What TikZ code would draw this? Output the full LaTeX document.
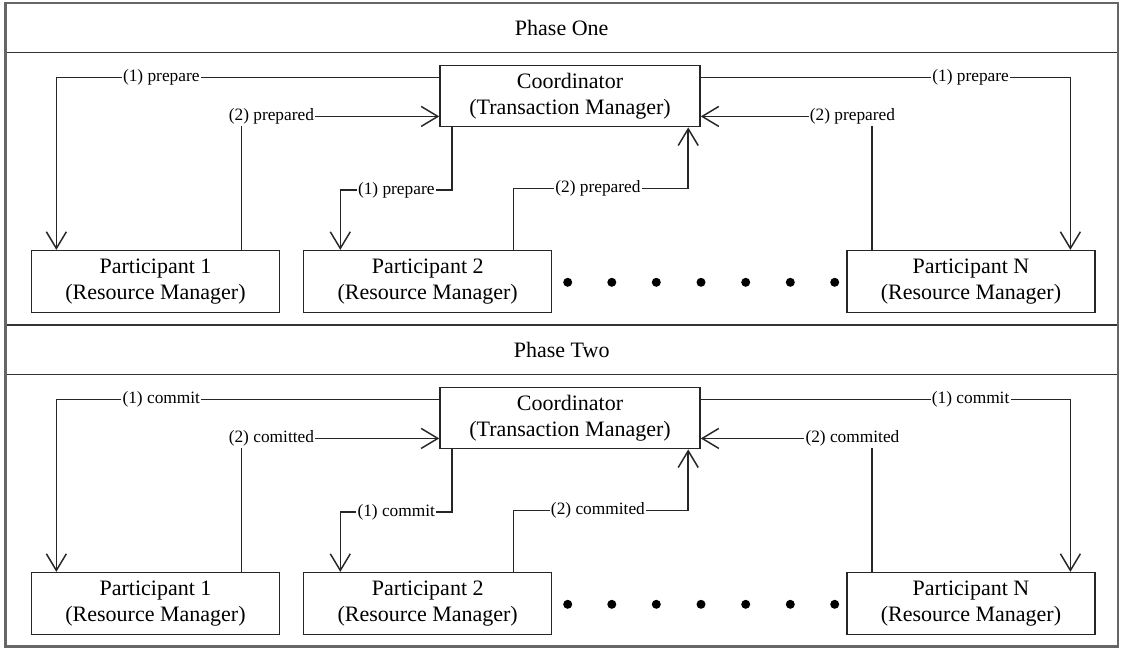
\documentclass[tikz,border=0pt]{standalone}
\usepackage{fontspec}
\setmainfont{Liberation Serif}
\usetikzlibrary{arrows.meta}
\tikzset{
  ln/.style={line width=1.1pt, draw=black!85},
  box/.style={ln, rectangle, inner sep=0pt, align=center, font=\fontsize{16.5}{20}\selectfont},
  coordbox/.style={box, minimum width=195pt, minimum height=45.75pt},
  partbox/.style={box, minimum width=186pt, minimum height=46.5pt},
  lbl/.style={fill=white, inner sep=1pt, font=\fontsize{13}{15}\selectfont},
  arr/.style={ln, -{Straight Barb[length=12.5pt,width=15pt,line width=1.1pt]}},
  dotmark/.style={circle, fill=black, inner sep=0pt, minimum size=6.75pt},
  phaseframe/.style={line width=1pt, draw=black!80},
  phasetitle/.style={font=\fontsize{16.5}{20}\selectfont}
}
\newcommand\PhasePanel[6]{%
\begin{scope}[shift={(0,#1)}, name prefix=#2-]
  \draw[phaseframe] (5.4,3.3) rectangle (1118,52.7);
  \draw[phaseframe] (5.4,52.7) rectangle (1118,325);
  \node[phasetitle] (title) at (561.7,28) {#3};
  \node[coordbox] (c) at (570,96.2) {Coordinator\\(Transaction Manager)};
  \node[partbox] (p1) at (155.5,281.6) {Participant 1\\(Resource Manager)};
  \node[partbox] (p2) at (427.7,281.6) {Participant 2\\(Resource Manager)};
  \node[partbox] (pn) at (971,281.6) {Participant N\\(Resource Manager)};
  \foreach \dx [count=\k] in {567.7,611.8,656.3,701,745.7,790.3,834.7}
    \node[dotmark] (dot\k) at (\dx,282.3) {};
  % (1) to participant 1
  \draw[arr] ([yshift=-9.45pt]c.north west) -| ([xshift=19.2pt]p1.north west)
    node[lbl,pos=0.363] (l1a) {#4};
  % (2) from participant 1
  \draw[arr] ([xshift=157.9pt]p1.north west) |- ([yshift=8.25pt]c.south west)
    node[lbl,pos=0.576] (l2a) {#5};
  % (1) to participant 2
  \draw[arr] ([xshift=9.7pt]c.south west) -- ++(0,62.6) -| ([xshift=28pt]p2.north west)
    node[lbl,pos=0.25] (l1b) {#4};
  % (2) from participant 2
  \draw[arr] ([xshift=157.7pt]p2.north west) -- ++(0,-61.4) -| ([xshift=-9.4pt]c.south east)
    node[lbl,pos=0.242] (l2b) {#6};
  % (1) to participant N
  \draw[arr] ([yshift=-9.45pt]c.north east) -| ([xshift=-19pt]pn.north east)
    node[lbl,pos=0.365] (l1c) {#4};
  % (2) from participant N
  \draw[arr] ([xshift=19.4pt]pn.north west) |- ([yshift=8.25pt]c.south east)
    node[lbl,pos=0.5575] (l2c) {#6};
\end{scope}}
\begin{document}
\begin{tikzpicture}[x=0.75pt,y=-0.75pt]
  \fill[white] (0,0) rectangle (1123,648);
  \useasboundingbox (0,0) rectangle (1123,648);
  \PhasePanel{0}{one}{Phase One}{(1) prepare}{(2) prepared}{(2) prepared}
  \PhasePanel{322}{two}{Phase Two}{(1) commit}{(2) comitted}{(2) commited}
  \draw[line width=1.8pt, draw=black!60] (5.4,3.3) rectangle (1118,646.5);
\end{tikzpicture}
\end{document}
